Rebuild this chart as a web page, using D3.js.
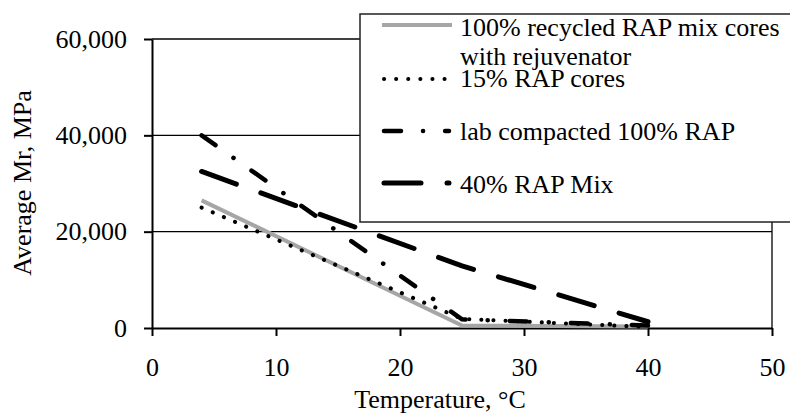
<!DOCTYPE html>
<html>
<head>
<meta charset="utf-8">
<script src="https://cdn.jsdelivr.net/npm/d3@7"></script>
<style>
  body { margin: 0; background: #fff; }
</style>
</head>
<body>
<div id="chart"></div>
<script>
// Temperatures (°C) and average Mr (MPa) per mix.
const temps = [4, 25, 40];
const recycled100 = [26500, 500, 300];
const rapCores15 = [25000, 1900, 200];
const labCompacted = [40000, 1800, 500];
const rapMix40 = [32500, 12900, 1300];

const xTicks = [0, 10, 20, 30, 40, 50];
const yTicks = [0, 20000, 40000, 60000];

const seriesNames = [
  ["100% recycled RAP mix cores", "with rejuvenator"],
  ["15% RAP cores"],
  ["lab compacted 100% RAP"],
  ["40% RAP Mix"]
];

const W = 790, H = 417;
const Margin = { top: 39, right: 18, bottom: 89, left: 152 };
const Font = "Liberation Serif";

const styles = [
  { stroke: "#a6a6a6", width: 4, dash: null, cap: "butt" },
  { stroke: "#000", width: 4, dash: "0.1,12", cap: "round" },
  { stroke: "#000", width: 4.5, dash: "17,22,0.1,22", cap: "round" },
  { stroke: "#000", width: 5, dash: "37,26", cap: "round" }
];

const svg = d3.select("#chart").append("svg")
  .attr("width", W).attr("height", H);

const x = d3.scaleLinear().domain([0, 50]).range([Margin.left, W - Margin.right]);
const y = d3.scaleLinear().domain([0, 60000]).range([H - Margin.bottom, Margin.top]);

// gridlines
svg.append("g").selectAll("line")
  .data(yTicks.filter(d => d > 0))
  .join("line")
    .attr("x1", x(0)).attr("x2", x(50))
    .attr("y1", d => y(d)).attr("y2", d => y(d))
    .attr("stroke", "#000").attr("stroke-width", 1.3);

// right border
svg.append("line")
  .attr("x1", x(50)).attr("x2", x(50))
  .attr("y1", y(60000)).attr("y2", y(0))
  .attr("stroke", "#000").attr("stroke-width", 1.3);

// axes
const xAxis = svg.append("g")
  .attr("transform", `translate(0,${y(0)})`)
  .call(d3.axisBottom(x).tickValues(xTicks).tickSize(8).tickPadding(22).tickSizeOuter(0));
const yAxis = svg.append("g")
  .attr("transform", `translate(${x(0)},0)`)
  .call(d3.axisLeft(y).tickValues(yTicks).tickSize(8).tickPadding(17)
    .tickFormat(d3.format(",")).tickSizeOuter(0));

[xAxis, yAxis].forEach(a => {
  a.attr("font-family", Font).attr("font-size", 26);
  a.select(".domain").attr("stroke", "#000").attr("stroke-width", 2);
  a.selectAll(".tick line").attr("stroke", "#000").attr("stroke-width", 2);
  a.selectAll(".tick text").attr("font-family", Font).attr("font-size", 26).attr("fill", "#000");
});

// series
const allSeries = [recycled100, rapCores15, labCompacted, rapMix40];
const line = d3.line().x((d, i) => x(temps[i])).y(d => y(d));

svg.append("g").selectAll("path")
  .data(allSeries)
  .join("path")
    .attr("d", d => line(d))
    .attr("fill", "none")
    .attr("stroke", (d, i) => styles[i].stroke)
    .attr("stroke-width", (d, i) => styles[i].width)
    .attr("stroke-dasharray", (d, i) => styles[i].dash)
    .attr("stroke-linecap", (d, i) => styles[i].cap);

// axis titles
svg.append("text")
  .attr("x", 440).attr("y", 408)
  .attr("text-anchor", "middle")
  .attr("font-family", Font).attr("font-size", 26)
  .text("Temperature, °C");

svg.append("text")
  .attr("transform", "translate(31,183) rotate(-90)")
  .attr("text-anchor", "middle")
  .attr("font-family", Font).attr("font-size", 26)
  .text("Average Mr, MPa");

// legend
const legend = svg.append("g");
legend.append("rect")
  .attr("x", 360).attr("y", 14)
  .attr("width", 460).attr("height", 208)
  .attr("fill", "#fff").attr("stroke", "#222").attr("stroke-width", 1.5);

const rowY = [25, 79, 131, 183];
const textY = [36, 87, 140, 193];
const sampleEnd = [452, 446, 449, 449];

seriesNames.forEach((name, i) => {
  const s = styles[i];
  legend.append("line")
    .attr("x1", s.cap === "round" ? 384 : 382).attr("x2", sampleEnd[i])
    .attr("y1", rowY[i]).attr("y2", rowY[i])
    .attr("stroke", s.stroke).attr("stroke-width", s.width)
    .attr("stroke-dasharray", s.dash).attr("stroke-linecap", s.cap);
  const t = legend.append("text")
    .attr("x", 460).attr("y", textY[i])
    .attr("font-family", Font).attr("font-size", 26);
  name.forEach((part, j) => {
    t.append("tspan").attr("x", 460).attr("dy", j === 0 ? 0 : 29).text(part);
  });
});
</script>
</body>
</html>
